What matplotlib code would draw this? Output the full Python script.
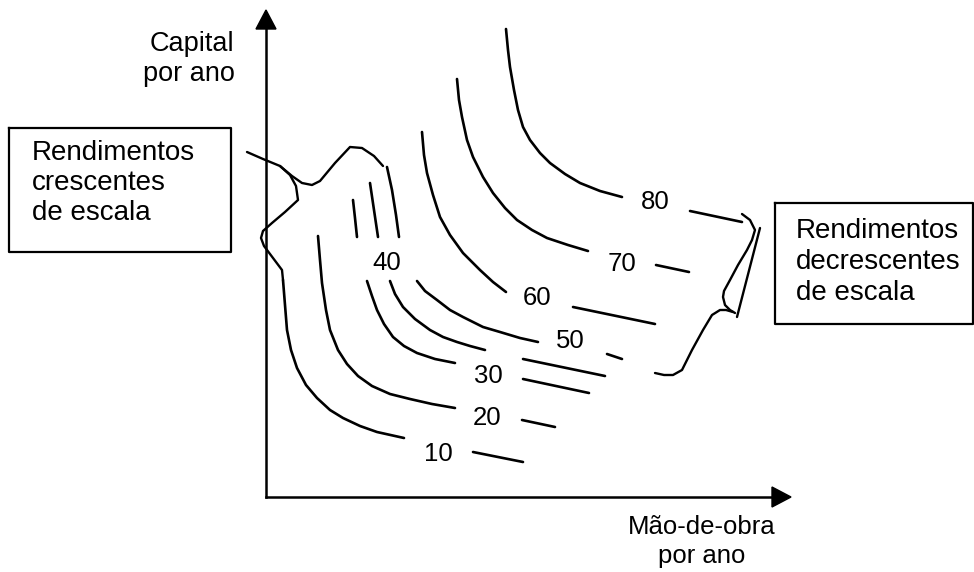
import matplotlib.pyplot as plt

plt.rcParams['font.family'] = ['Liberation Sans', 'DejaVu Sans']

# isoquants in pixel units (x right, y down)
# each curve: upper curved part ending before its label, then a short stroke after it
q80_x = [506, 508, 510, 514, 518, 523, 530, 540, 550, 565, 580, 600, 622]
q80_y = [29, 50, 67, 90, 110, 127, 140, 153, 163, 174, 183, 191, 197]
q80_tail_x = [690, 742]
q80_tail_y = [211, 222]

q70_x = [457, 459, 462, 467, 473, 483, 493, 505, 517, 532, 547, 568, 588]
q70_y = [79, 100, 117, 140, 157, 177, 193, 208, 220, 230, 238, 245, 251]
q70_tail_x = [656, 689]
q70_tail_y = [265, 272]

q60_x = [422, 424, 427, 433, 440, 450, 463, 480, 493, 506]
q60_y = [132, 155, 173, 195, 217, 235, 253, 270, 282, 292]
q60_tail_x = [573, 655]
q60_tail_y = [307, 324]

q50_top_x = [387, 392, 396, 399]
q50_top_y = [167, 190, 215, 237]
q50_x = [417, 425, 437, 450, 463, 483, 500, 520, 538]
q50_y = [281, 291, 300, 310, 317, 327, 332, 338, 342]
q50_tail_x = [607, 622]
q50_tail_y = [354, 359]

q40_top_x = [370, 374, 378]
q40_top_y = [183, 210, 237]
q40_x = [390, 395, 403, 415, 430, 443, 457, 470, 485]
q40_y = [281, 294, 307, 319, 330, 337, 342, 346, 350]
q40_tail_x = [523, 605]
q40_tail_y = [359, 376]

q30_top_x = [353, 355, 357]
q30_top_y = [200, 218, 237]
q30_x = [367, 372, 377, 384, 393, 404, 417, 435, 455]
q30_y = [281, 296, 310, 324, 337, 346, 353, 359, 363]
q30_tail_x = [523, 589]
q30_tail_y = [379, 393]

q20_x = [318, 320, 322, 326, 330, 338, 347, 358, 372, 390, 410, 432, 455]
q20_y = [236, 260, 283, 310, 330, 350, 364, 376, 386, 394, 399, 404, 408]
q20_tail_x = [522, 555]
q20_tail_y = [420, 427]

q10_x = [283, 285, 287, 291, 297, 306, 317, 330, 343, 360, 377, 404]
q10_y = [280, 305, 330, 350, 368, 385, 398, 410, 418, 426, 432, 438]
q10_tail_x = [473, 523]
q10_tail_y = [452, 462]

curves = [
    (q80_x, q80_y), (q80_tail_x, q80_tail_y),
    (q70_x, q70_y), (q70_tail_x, q70_tail_y),
    (q60_x, q60_y), (q60_tail_x, q60_tail_y),
    (q50_top_x, q50_top_y), (q50_x, q50_y), (q50_tail_x, q50_tail_y),
    (q40_top_x, q40_top_y), (q40_x, q40_y), (q40_tail_x, q40_tail_y),
    (q30_top_x, q30_top_y), (q30_x, q30_y), (q30_tail_x, q30_tail_y),
    (q20_x, q20_y), (q20_tail_x, q20_tail_y),
    (q10_x, q10_y), (q10_tail_x, q10_tail_y),
]

output_labels = ['10', '20', '30', '40', '50', '60', '70', '80']
label_x = [438, 487, 488, 387, 570, 537, 622, 655]
label_y = [454, 418, 376, 263, 341, 298, 264, 202]

# left brace (increasing returns), two strokes
brace_left_a_x = [247, 263, 280, 292, 302, 312, 320, 335, 350, 362, 374, 383]
brace_left_a_y = [152, 159, 166, 176, 183, 185, 181, 163, 147, 148, 156, 166]
brace_left_b_x = [280, 290, 296, 298, 285, 272, 263, 261, 264, 273, 282, 283]
brace_left_b_y = [166, 175, 186, 200, 212, 223, 231, 238, 246, 258, 270, 280]

# right brace (decreasing returns)
brace_right_a_x = [742, 750, 755, 752, 747, 738, 730, 724, 723, 725, 730, 735]
brace_right_a_y = [214, 220, 230, 240, 250, 265, 280, 291, 297, 305, 310, 313]
brace_right_b_x = [760, 737]
brace_right_b_y = [228, 317]
brace_right_c_x = [733, 726, 720, 712, 703, 692, 682, 673, 664, 655]
brace_right_c_y = [312, 310, 310, 315, 330, 350, 370, 375, 375, 373]

box_left_lines = ['Rendimentos', 'crescentes', 'de escala']
box_right_lines = ['Rendimentos', 'decrescentes', 'de escala']


def draw_box(ax, x0, y0, x1, y1, lines, tx, ty, step):
    ax.plot([x0, x1, x1, x0, x0], [y0, y0, y1, y1, y0], color='black', lw=1.6)
    for i, line in enumerate(lines):
        ax.text(tx, ty + i * step, line, fontsize=20, ha='left', va='center')


def main():
    fig = plt.figure(figsize=(9.74, 5.72), dpi=100)
    ax = fig.add_axes([0, 0, 1, 1])
    ax.set_xlim(0, 974)
    ax.set_ylim(572, 0)
    ax.axis('off')

    # axes with arrow heads
    ax.plot([266, 266], [497, 28], color='black', lw=1.8)
    ax.plot([266, 773], [497, 497], color='black', lw=1.8)
    ax.fill([256, 276, 266], [29, 29, 10], color='black')
    ax.fill([772, 772, 791], [487, 507, 497], color='black')

    for xs, ys in curves:
        ax.plot(xs, ys, color='black', lw=1.9, solid_capstyle='round', solid_joinstyle='round')

    for t, x, y in zip(output_labels, label_x, label_y):
        ax.text(x, y, t, fontsize=18.5, ha='center', va='center')

    for xs, ys in [(brace_left_a_x, brace_left_a_y), (brace_left_b_x, brace_left_b_y),
                   (brace_right_a_x, brace_right_a_y), (brace_right_b_x, brace_right_b_y),
                   (brace_right_c_x, brace_right_c_y)]:
        ax.plot(xs, ys, color='black', lw=1.7, solid_capstyle='round', solid_joinstyle='round')

    ax.text(192, 44, 'Capital', fontsize=19.5, ha='center', va='center')
    ax.text(189, 74, 'por ano', fontsize=19.5, ha='center', va='center')
    ax.text(702, 527, 'Mão-de-obra', fontsize=18.5, ha='center', va='center')
    ax.text(702, 556, 'por ano', fontsize=18.5, ha='center', va='center')

    draw_box(ax, 9, 128, 231, 252, box_left_lines, 32, 153, 30)
    draw_box(ax, 775, 203, 973, 324, box_right_lines, 796, 231, 31)

    fig.savefig('out.png', dpi=100)


if __name__ == "__main__":
    main()
